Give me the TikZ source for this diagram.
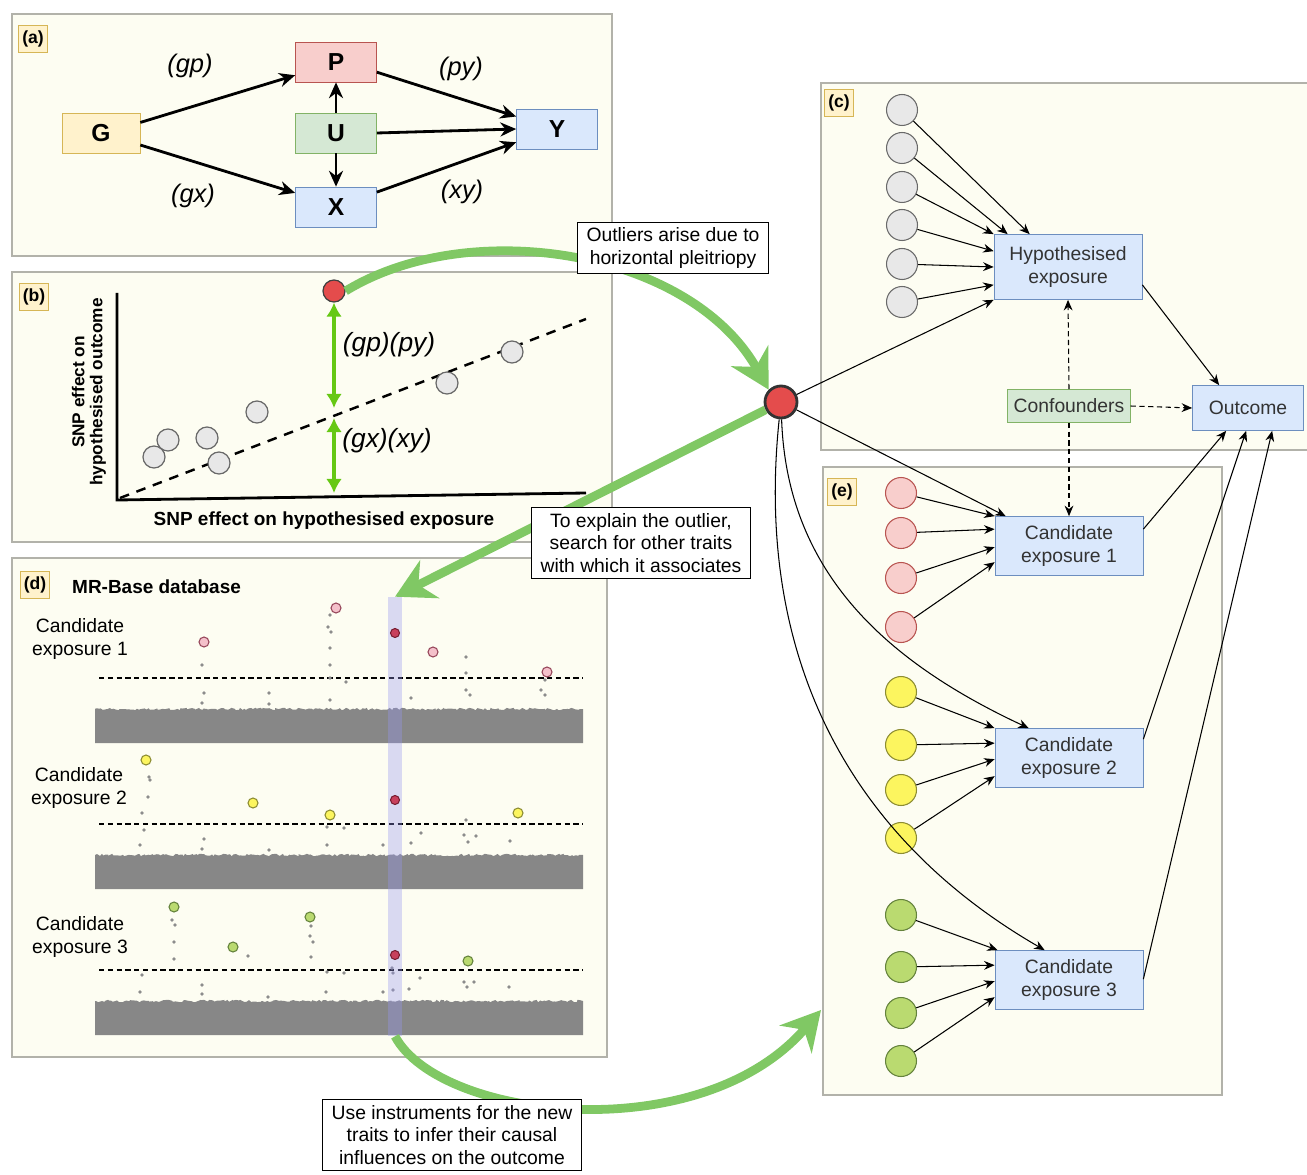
\documentclass[tikz,border=0pt]{standalone}
\usepackage{fontspec}
\setmainfont{Liberation Sans}
\usetikzlibrary{arrows.meta, calc, decorations.pathmorphing}

\definecolor{panelbg}{RGB}{253,253,242}
\definecolor{panelline}{RGB}{178,178,170}
\definecolor{tagfill}{RGB}{255,242,204}
\definecolor{tagline}{RGB}{214,182,86}
\definecolor{bluefill}{RGB}{218,232,252}
\definecolor{blueline}{RGB}{108,142,191}
\definecolor{redfill}{RGB}{248,206,204}
\definecolor{redline}{RGB}{184,84,80}
\definecolor{greenfill}{RGB}{213,232,212}
\definecolor{greenline}{RGB}{130,179,102}
\definecolor{snpgray}{RGB}{232,232,232}
\definecolor{snpline}{RGB}{105,105,105}
\definecolor{yellowfill}{RGB}{252,245,95}
\definecolor{yellowline}{RGB}{140,140,50}
\definecolor{limefill}{RGB}{186,218,112}
\definecolor{limeline}{RGB}{100,130,60}
\definecolor{outlierred}{RGB}{228,76,76}
\definecolor{flowgreen}{RGB}{128,200,100}
\definecolor{effectgreen}{RGB}{102,200,20}
\definecolor{bandblue}{RGB}{150,150,240}
\definecolor{bargray}{RGB}{135,135,135}
\definecolor{hitred}{RGB}{200,64,92}
\definecolor{hitline}{RGB}{120,30,50}
\definecolor{pinkdot}{RGB}{244,192,202}
\definecolor{pinkline}{RGB}{150,70,90}

\begin{document}
\begin{tikzpicture}[x=0.02cm,y=-0.02cm,>={Stealth[length=6pt,width=5pt]},
    panel/.style={draw=panelline,fill=panelbg,line width=0.6pt},
    tag/.style={draw=tagline,fill=tagfill,font=\fontsize{10}{12}\selectfont\bfseries,inner sep=0pt,minimum width=0.58cm,minimum height=0.54cm},
    var/.style={draw,font=\fontsize{14}{16}\selectfont\bfseries,minimum width=1.62cm,minimum height=0.8cm,inner sep=0pt},
    causal/.style={arrows={-Stealth[length=9pt,width=8pt]},line width=1.6pt},
    coef/.style={font=\fontsize{14.5}{16}\selectfont\itshape},
    snpdot/.style={circle,draw=snpline,fill=snpgray,minimum size=0.44cm,inner sep=0pt,line width=0.7pt},
    effect/.style={arrows={Latex[length=8pt,width=9pt]-Latex[length=8pt,width=9pt]},draw=effectgreen,line width=2.4pt},
    trackname/.style={font=\fontsize{11}{13}\selectfont,align=center},
    hitdot/.style={draw=hitline,fill=hitred,line width=0.6pt},
    snp/.style={circle,draw=snpline,fill=snpgray,minimum size=0.62cm,inner sep=0pt,line width=0.6pt},
    trait/.style={draw=blueline,fill=bluefill,text=black!80,font=\fontsize{11}{13}\selectfont,align=center,minimum width=2.96cm,minimum height=1.18cm},
    instr/.style={->,line width=0.6pt},
    latent/.style={->,dashed,dash pattern=on 3pt off 2pt,line width=0.6pt},
    flowline/.style={draw=flowgreen,line width=5pt,arrows={-Stealth[length=22pt,width=24pt]}},
    note/.style={draw,fill=white,line width=0.6pt,font=\fontsize{11}{13}\selectfont,align=center,inner xsep=5pt,inner ysep=3pt}]

    \useasboundingbox (0,0) rectangle (1307,1175);

    % draw the panels
    \draw[panel] (12,14) rectangle (612,256);
    \draw[panel] (12,272) rectangle (612,542);
    \draw[panel] (12,558) rectangle (607,1057);
    \draw[panel] (821,83) rectangle (1330,450);
    \draw[panel] (823,467) rectangle (1222,1095);

    % (a) causal diagram
    \node[tag] (taga) at (33,39) {(a)};
    \node[var,fill=tagfill,draw=tagline,minimum width=1.56cm] (g) at (101,133) {G};
    \node[var,fill=redfill,draw=redline] (p) at (336,62) {P};
    \node[var,fill=greenfill,draw=greenline] (u) at (336,133) {U};
    \node[var,fill=bluefill,draw=blueline] (x) at (336,207) {X};
    \node[var,fill=bluefill,draw=blueline] (y) at (557,129) {Y};
    \draw[causal] (g.15) -- (p.198);
    \draw[causal] (g.-17) -- (x.161);
    \draw[causal] (p.-14) -- (y.163);
    \draw[causal] (u.east) -- (y.west);
    \draw[causal] (x.20) -- (y.198);
    \draw[causal] (u.north) -- (p.south);
    \draw[causal] (u.south) -- (x.north);
    \node[coef] (gp) at (190,66) {(gp)};
    \node[coef] (py) at (461,69) {(py)};
    \node[coef] (gx) at (193,196) {(gx)};
    \node[coef] (xy) at (462,192) {(xy)};

    % (b) SNP effects
    \node[tag] (tagb) at (34,297) {(b)};
    \coordinate (ytop) at (117,293);
    \coordinate (origin) at (117,500);
    \coordinate (xend) at (586,493);
    \draw[line width=1.6pt] (ytop) -- (origin) -- (xend);
    \coordinate (fitstart) at (120,498);
    \coordinate (fitend) at (586,319);
    \draw[dashed,dash pattern=on 5.5pt off 4.5pt,line width=1.4pt] (fitstart) -- (fitend);
    \foreach \px/\py in {154/457,168/440,207/438,219/463,257/412,447/383,512/352}
        \node[snpdot] at (\px,\py) {};
    \node[snpdot,fill=outlierred,draw=black!75] (hp) at (334,291) {};
    \coordinate (fitup) at (334,408);
    \coordinate (fitdown) at (334,418);
    \coordinate (foot) at (334,493);
    \draw[effect] (hp) -- (fitup);
    \draw[effect] (fitdown) -- (foot);
    \node[coef,font=\fontsize{15}{17}\selectfont\itshape] (pleio) at (389,345) {(gp)(py)};
    \node[coef,font=\fontsize{15}{17}\selectfont\itshape] (direct) at (387,441) {(gx)(xy)};
    \node[rotate=90,align=center,font=\fontsize{9.8}{10.2}\selectfont\bfseries] (ylab) at (89,392) {SNP effect on\\hypothesised outcome};
    \node[font=\fontsize{10.8}{13}\selectfont\bfseries] (xlab) at (324,521) {SNP effect on hypothesised exposure};

    % (d) MR-Base look-up
    \node[tag] (tagd) at (35,585) {(d)};
    \node[font=\fontsize{10.8}{13}\selectfont\bfseries,anchor=west] (mrbase) at (66,587) {MR-Base database};
    \foreach \dy in {0,146,292}{
        \draw[dashed,dash pattern=on 3pt off 2pt,line width=0.7pt] (99,678+\dy) -- (583,678+\dy);
        \fill[bargray] (95,743+\dy) -- (95,709+\dy)
            decorate[decoration={random steps,segment length=1.2pt,amplitude=0.7pt}] {-- (583,709+\dy)}
            -- (583,743+\dy) -- cycle;
    }
    \node[trackname] (track1) at (80,639) {Candidate\\exposure 1};
    \node[trackname] (track2) at (79,788) {Candidate\\exposure 2};
    \node[trackname] (track3) at (80,937) {Candidate\\exposure 3};
    % sub-threshold hits
    \foreach \px/\py in {202/665,204/693,202/703,330/615,328/627,331/632,330/648,330/665,330/678,330/700,346/682,269/693,269/704,466/657,466/673,466/690,470/695,411/698,541/690,545/695,545/680,
        149/777,150/780,148/797,142/813,144/830,140/845,204/839,202/849,269/850,327/827,344/828,327/845,383/845,411/843,421/833,466/820,464/835,476/836,468/842,510/841,
        172/920,175/925,174/942,174/959,248/956,311/926,310/936,313/942,311/957,142/975,140/992,202/985,202/994,268/997,327/972,344/973,326/992,383/992,392/968,393/973,393/990,409/989,420/978,464/982,474/982,467/987,509/987}
        \fill[black!45] (\px,\py) circle[radius=1.8];
    % significant hits
    \foreach \px/\py in {204/642,336/608,433/652,547/672}
        \draw[draw=pinkline,fill=pinkdot,line width=0.6pt] (\px,\py) circle[radius=5];
    \foreach \px/\py in {146/760,253/803,330/815,518/813}
        \draw[draw=yellowline,fill=yellowfill,line width=0.6pt] (\px,\py) circle[radius=5];
    \foreach \px/\py in {174/907,233/947,310/917,468/961}
        \draw[draw=limeline,fill=limefill,line width=0.6pt] (\px,\py) circle[radius=5];
    \node[fill=bandblue,fill opacity=0.35,inner sep=0pt,minimum width=0.28cm,minimum height=8.78cm] (hit) at (395,816.5) {};
    \foreach \py in {633,800,955}
        \draw[hitdot] (395,\py) circle[radius=4.5];

    % (c) hypothesised model
    \node[tag] (tagc) at (839,103) {(c)};
    \foreach \i/\py in {1/110,2/148,3/187,4/225,5/264,6/302}
        \node[snp] (h\i) at (902,\py) {};
    \node[trait,minimum height=1.3cm] (hyp) at (1068,267) {Hypothesised\\exposure};
    \node[trait,minimum width=2.22cm,minimum height=0.9cm] (out) at (1248,408) {Outcome};
    \node[draw=greenline,fill=greenfill,text=black!80,font=\fontsize{11}{13}\selectfont,minimum width=2.44cm,minimum height=0.66cm] (conf) at (1069,406) {Confounders};
    \draw[instr] (h1) -- ($(hyp.north west)+(36,0)$);
    \draw[instr] (h2) -- ($(hyp.north west)+(14,0)$);
    \draw[instr] (h3) -- (hyp.north west);
    \draw[instr] (h4) -- ($(hyp.north west)+(0,17)$);
    \draw[instr] (h5) -- (hyp.west);
    \draw[instr] (h6) -- ($(hyp.south west)+(0,-15)$);
    \draw[instr] ($(hyp.south east)+(0,-15)$) -- ($(out.north west)+(27,0)$);

    % (e) candidate exposures
    \node[tag] (tage) at (842,492) {(e)};
    \foreach \i/\py in {1/493,2/533,3/578,4/627}
        \node[snp,fill=redfill,draw=redline] (ca\i) at (901,\py) {};
    \foreach \i/\py in {1/692,2/745,3/790,4/838}
        \node[snp,fill=yellowfill,draw=yellowline] (cb\i) at (901,\py) {};
    \foreach \i/\py in {1/915,2/967,3/1013,4/1061}
        \node[snp,fill=limefill,draw=limeline] (cc\i) at (901,\py) {};
    \node[trait] (cand1) at (1069,546) {Candidate\\exposure 1};
    \node[trait] (cand2) at (1069,758) {Candidate\\exposure 2};
    \node[trait] (cand3) at (1069,980) {Candidate\\exposure 3};
    \draw[instr] (ca1) -- (cand1.north west);
    \foreach \i/\dy in {2/13,3/31,4/46}
        \draw[instr] (ca\i) -- ($(cand1.north west)+(0,\dy)$);
    \draw[instr] (cb1) -- (cand2.north west);
    \foreach \i/\dy in {2/15,3/31,4/48}
        \draw[instr] (cb\i) -- ($(cand2.north west)+(0,\dy)$);
    \draw[instr] (cc1) -- ($(cand3.north west)+(3,0)$);
    \foreach \i/\dy in {2/15,3/31,4/47}
        \draw[instr] (cc\i) -- ($(cand3.north west)+(0,\dy)$);
    \draw[instr] ($(cand1.north east)+(0,13)$) -- ($(out.south west)+(34,0)$);
    \draw[instr] ($(cand2.north east)+(0,11)$) -- ($(out.south west)+(54,0)$);
    \draw[instr] ($(cand3.north east)+(0,29)$) -- ($(out.south west)+(80,0)$);

    % confounding
    \draw[latent] (conf.north) -- (hyp.south);
    \draw[latent] (conf.east) -- (out.west);
    \draw[latent] (conf.south) -- (cand1.north);

    % the outlier and its links
    \node[circle,draw=black!80,fill=outlierred,line width=1.6pt,minimum size=0.64cm,inner sep=0pt] (outlier) at (781,402) {};
    \draw[instr] (outlier) -- (hyp.south west);
    \draw[instr] (outlier) -- ($(cand1.north west)+(11,0)$);
    \draw[instr] (outlier.-88) to[out=-88,in=155] ($(cand2.north west)+(34,0)$);
    \draw[instr] (outlier.-96) to[out=-96,in=150] ($(cand3.north west)+(50,0)$);

    % green flow arrows
    \coordinate (eentry) at (821,1010);
    \draw[flowline] (hp.east) .. controls (470,215) and (690,250) .. (outlier.135);
    \draw[flowline] (outlier) -- (hit.north);
    \draw[flowline] (hit.south) .. controls (440,1120) and (700,1150) .. (eentry);

    % text boxes
    \node[note] (arise) at (673,248) {Outliers arise due to\\horizontal pleitriopy};
    \node[note] (search) at (641,543) {To explain the outlier,\\search for other traits\\with which it associates};
    \node[note] (infer) at (452,1135) {Use instruments for the new\\traits to infer their causal\\influences on the outcome};
\end{tikzpicture}
\end{document}
